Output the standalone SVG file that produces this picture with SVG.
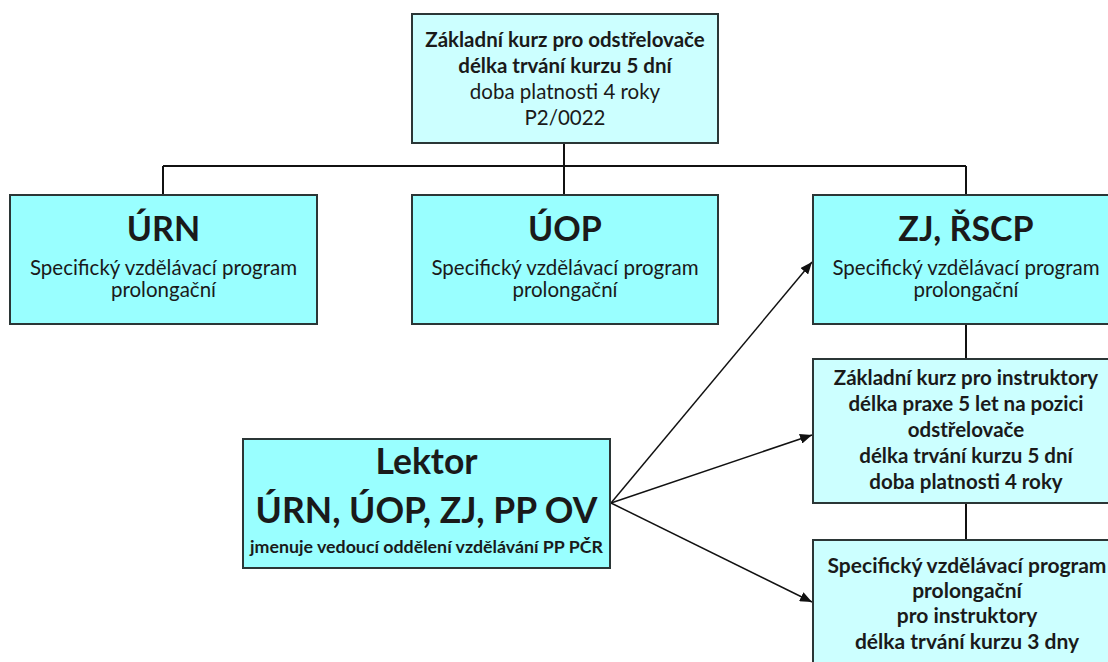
<svg xmlns="http://www.w3.org/2000/svg" width="1108" height="662" viewBox="0 0 1108 662">
<defs>
<marker id="ah" viewBox="0 0 12 10" refX="12" refY="5" markerWidth="12" markerHeight="10" markerUnits="userSpaceOnUse" orient="auto">
<path d="M0,0 L12,5 L0,10 Z" fill="#111"/>
</marker>
</defs>
<style>
.bx{stroke:#2b3636;stroke-width:2}
.dark{fill:#99ffff}
.light{fill:#ccffff}
text{font-family:Lato,"Open Sans","Liberation Sans",sans-serif;fill:#1a1a1a;text-anchor:middle}
.b{font-weight:bold}
.t{font-size:34px;font-weight:bold}
.s{font-size:20.5px}
.l{font-size:35.5px;font-weight:bold}
.ln{stroke:#111;stroke-width:2;fill:none}
.ar{stroke:#111;stroke-width:1.5;fill:none;marker-end:url(#ah)}
</style>
<rect width="1108" height="662" fill="#fff"/>
<g id="connectors">
<line class="ln" x1="564" y1="143" x2="564" y2="195"/>
<line class="ln" x1="163" y1="166" x2="966" y2="166"/>
<line class="ln" x1="163" y1="166" x2="163" y2="195"/>
<line class="ln" x1="966" y1="166" x2="966" y2="195"/>
<line class="ln" x1="966" y1="324" x2="966" y2="359"/>
<line class="ln" x1="966" y1="503" x2="966" y2="540"/>
<line class="ar" x1="611" y1="503" x2="812" y2="262"/>
<line class="ar" x1="611" y1="503" x2="812" y2="435"/>
<line class="ar" x1="611" y1="503" x2="812" y2="602"/>
</g>
<g id="top">
<rect class="bx light" x="412" y="14" width="306" height="129"/>
<text class="s b" x="565" y="47">Základní kurz pro odstřelovače</text>
<text class="s b" x="565" y="73">délka trvání kurzu 5 dní</text>
<text class="s" x="565" y="99">doba platnosti 4 roky</text>
<text class="s" x="565" y="125">P2/0022</text>
</g>
<g id="urn">
<rect class="bx dark" x="10" y="195" width="307" height="129"/>
<text class="t" x="163.5" y="241">ÚRN</text>
<text class="s" x="163.5" y="275">Specifický vzdělávací program</text>
<text class="s" x="163.5" y="297">prolongační</text>
</g>
<g id="uop">
<rect class="bx dark" x="412" y="195" width="306" height="129"/>
<text class="t" x="565" y="241">ÚOP</text>
<text class="s" x="565" y="275">Specifický vzdělávací program</text>
<text class="s" x="565" y="297">prolongační</text>
</g>
<g id="zj">
<rect class="bx dark" x="813" y="195" width="306" height="129"/>
<text class="t" x="966" y="241">ZJ, ŘSCP</text>
<text class="s" x="966" y="275">Specifický vzdělávací program</text>
<text class="s" x="966" y="297">prolongační</text>
</g>
<g id="instruktor">
<rect class="bx light" x="813" y="359" width="306" height="144"/>
<text class="s b" x="966" y="385">Základní kurz pro instruktory</text>
<text class="s b" x="966" y="411">délka praxe 5 let na pozici</text>
<text class="s b" x="966" y="437">odstřelovače</text>
<text class="s b" x="966" y="463">délka trvání kurzu 5 dní</text>
<text class="s b" x="966" y="489">doba platnosti 4 roky</text>
</g>
<g id="prolongace">
<rect class="bx light" x="813" y="540" width="306" height="140"/>
<text class="b" font-size="21" x="967" y="573">Specifický vzdělávací program</text>
<text class="b" font-size="21" x="967" y="598">prolongační</text>
<text class="b" font-size="21" x="967" y="623">pro instruktory</text>
<text class="b" font-size="21" x="967" y="649">délka trvání kurzu 3 dny</text>
</g>
<g id="lektor">
<rect class="bx dark" x="243" y="439" width="367" height="129"/>
<text class="l" x="426.5" y="474">Lektor</text>
<text class="l" x="426.5" y="523">ÚRN, ÚOP, ZJ, PP OV</text>
<text class="b" x="426.5" y="553" font-size="17.8">jmenuje vedoucí oddělení vzdělávání PP PČR</text>
</g>
</svg>
